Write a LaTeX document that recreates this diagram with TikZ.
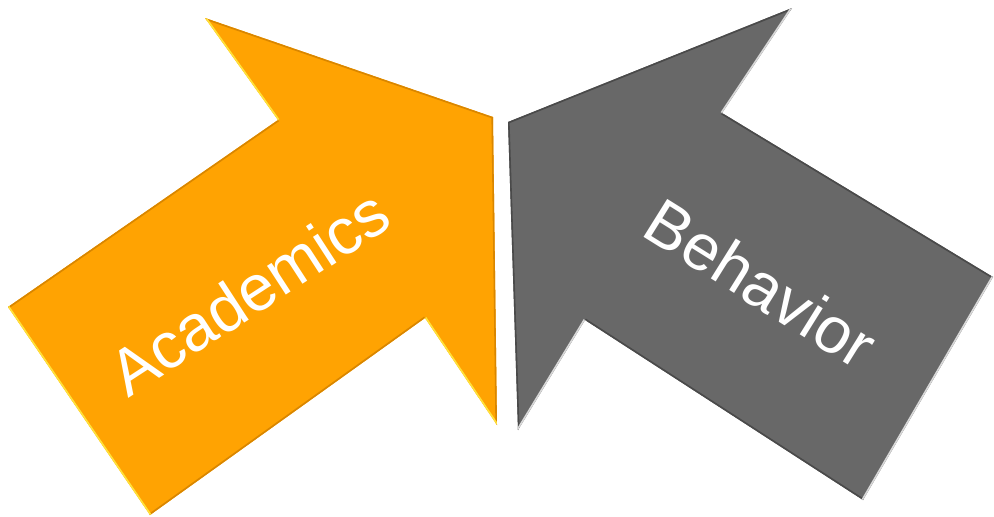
\documentclass[tikz,border=0pt]{standalone}
\usepackage{fontspec}
\setmainfont{Liberation Sans}
\begin{document}
\begin{tikzpicture}[x=1pt,y=-1pt,
  label text/.style={text=white, inner sep=0pt, font=\fontsize{65}{78}\selectfont},
  bevel/.style={line width=3.2pt, line join=round}]
\useasboundingbox (0,0) rectangle (994,517);
\definecolor{acadfill}{HTML}{FFA302}
\definecolor{acadlight}{HTML}{FFE23A}
\definecolor{acaddark}{HTML}{D98600}
\definecolor{behfill}{HTML}{686868}
\definecolor{behlight}{HTML}{D8D8D8}
\definecolor{behdark}{HTML}{4A4A4A}

% Academics arrow outline
\coordinate (a1) at (8,307);
\coordinate (a2) at (278,120);
\coordinate (a3) at (205,18);
\coordinate (a4) at (493,117);
\coordinate (a5) at (497,425);
\coordinate (a6) at (425,318);
\coordinate (a7) at (150,515);

% Behavior arrow outline
\coordinate (b1) at (508,122);
\coordinate (b2) at (792,8);
\coordinate (b3) at (722,113);
\coordinate (b4) at (993,277);
\coordinate (b5) at (863,500);
\coordinate (b6) at (585,320);
\coordinate (b7) at (518,430);

\fill[acadfill] (a1) -- (a2) -- (a3) -- (a4) -- (a5) -- (a6) -- (a7) -- cycle;
\begin{scope}
  \clip (a1) -- (a2) -- (a3) -- (a4) -- (a5) -- (a6) -- (a7) -- cycle;
  \draw[bevel, acaddark] (a1) -- (a2) (a3) -- (a4) -- (a5) (a6) -- (a7);
  \draw[bevel, acadlight] (a7) -- (a1) (a2) -- (a3) (a5) -- (a6);
\end{scope}

\fill[behfill] (b1) -- (b2) -- (b3) -- (b4) -- (b5) -- (b6) -- (b7) -- cycle;
\begin{scope}
  \clip (b1) -- (b2) -- (b3) -- (b4) -- (b5) -- (b6) -- (b7) -- cycle;
  \draw[bevel, behdark] (b7) -- (b1) -- (b2) (b3) -- (b4) (b5) -- (b6);
  \draw[bevel, behlight] (b2) -- (b3) (b4) -- (b5) (b6) -- (b7);
\end{scope}

\node[label text, rotate=33] (acad) at (249,292) {Academics};
\node[label text, rotate=-32] (beh) at (761,283) {Behavior};
\end{tikzpicture}
\end{document}
